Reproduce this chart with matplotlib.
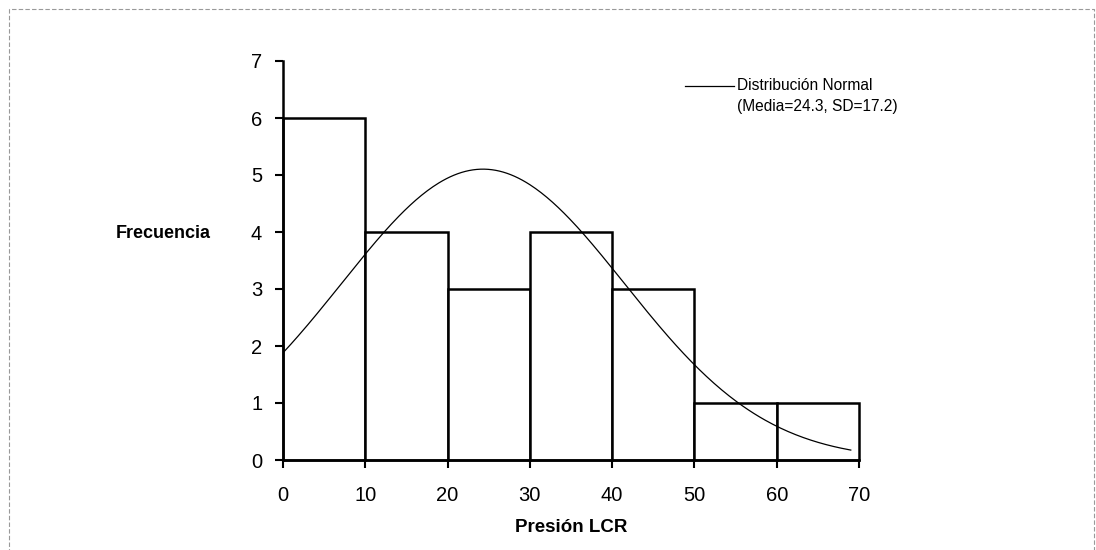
import numpy as np
import matplotlib
matplotlib.use("Agg")
import matplotlib.pyplot as plt
from matplotlib.patches import Rectangle

plt.rcParams['font.family'] = ['Liberation Sans', 'DejaVu Sans']

bin_edges = [0, 10, 20, 30, 40, 50, 60, 70]
counts = [6, 4, 3, 4, 3, 1, 1]
media = 24.3
sd = 17.2
x_ticks = [0, 10, 20, 30, 40, 50, 60, 70]
y_ticks = [0, 1, 2, 3, 4, 5, 6, 7]

fig = plt.figure(figsize=(10.96, 5.5), dpi=100)
ax = fig.add_axes([283/1096, 1 - 460/550, (859-283)/1096, (460-61)/550])

widths = np.diff(bin_edges)
bars = ax.bar(bin_edges[:-1], counts, width=widths, align='edge', facecolor='white',
              edgecolor='black', linewidth=1.8, zorder=2)
for b in bars:
    b.set_clip_on(False)

n = sum(counts)
bw = widths[0]
xs = np.linspace(0, 69, 300)
ys = n * bw / (sd * np.sqrt(2 * np.pi)) * np.exp(-0.5 * ((xs - media) / sd) ** 2)
ax.plot(xs, ys, color='black', linewidth=0.9, zorder=3)

ax.set_xlim(0, 70)
ax.set_ylim(0, 7)
ax.set_xticks(x_ticks)
ax.set_yticks(y_ticks)
ax.tick_params(axis='x', direction='out', length=6, width=1.5, pad=13, labelsize=14.5)
ax.tick_params(axis='y', direction='out', length=6, width=1.5, pad=9, labelsize=14.5)
for s in ['top', 'right']:
    ax.spines[s].set_visible(False)
for s in ['left', 'bottom']:
    ax.spines[s].set_linewidth(1.8)
ax.margins(0)

fig.text(163/1096, 1 - 233/550, 'Frecuencia', fontsize=13, fontweight='bold',
         ha='center', va='center')
fig.text(571/1096, 1 - 528/550, 'Presión LCR', fontsize=13.5, fontweight='bold',
         ha='center', va='center')

# legend
fig.add_artist(plt.Line2D([685/1096, 734/1096], [1 - 86/550, 1 - 86/550],
                          color='black', linewidth=0.9))
fig.text(737/1096, 1 - 86/550, 'Distribución Normal', fontsize=11.2,
         ha='left', va='center')
fig.text(737/1096, 1 - 107/550, '(Media=24.3, SD=17.2)', fontsize=11.2,
         ha='left', va='center')

# dashed frame
frame = Rectangle((9/1096, -0.05), (1094-9)/1096, 1 - 9/550 + 0.05,
                  transform=fig.transFigure, fill=False, edgecolor='#999999',
                  linewidth=0.8, linestyle=(0, (4, 2)))
fig.add_artist(frame)

fig.savefig('out.png', dpi=100)
